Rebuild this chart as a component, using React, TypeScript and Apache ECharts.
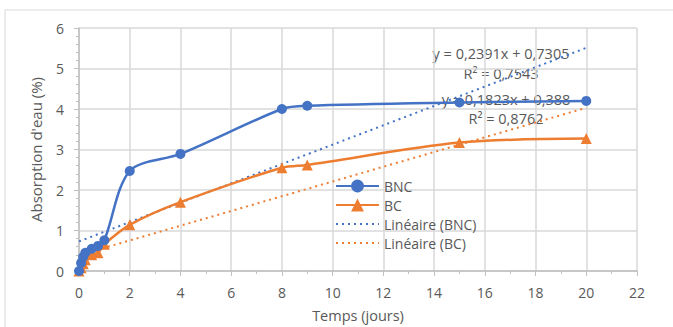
import React, { useEffect, useRef } from "react";
import * as echarts from "echarts";

const bncData: [number, number][] = [
  [0, 0], [0.083, 0.2], [0.167, 0.35], [0.25, 0.45], [0.5, 0.55], [0.75, 0.62], [1, 0.76],
  [2, 2.47], [4, 2.89], [8, 4.0], [9, 4.08], [15, 4.16], [20, 4.2],
];
const bcData: [number, number][] = [
  [0, 0], [0.083, 0.08], [0.167, 0.18], [0.25, 0.28], [0.5, 0.4], [0.75, 0.45], [1, 0.66],
  [2, 1.14], [4, 1.7], [8, 2.55], [9, 2.62], [15, 3.17], [20, 3.27],
];
const trendBNC: [number, number][] = [[0, 0.73], [20, 5.51]];
const trendBC: [number, number][] = [[0, 0.39], [20, 4.03]];
const seriesNames = ["BNC", "BC", "Linéaire (BNC)", "Linéaire (BC)"];
const eqBNC = "y = 0,2391x + 0,7305";
const r2BNC = "R² = 0,7543";
const eqBC = "y = 0,1823x + 0,388";
const r2BC = "R² = 0,8762";

const BLUE = "#4472C4";
const ORANGE = "#ED7D31";
const TXT = "#595959";
const FONT = "Open Sans";

export default function App() {
  const ref = useRef<HTMLDivElement>(null);
  useEffect(() => {
    if (!ref.current) return;
    const chart = echarts.init(ref.current, undefined, { renderer: "svg" });
    const eqStyle = (text: string) => ({ text, fill: TXT, fontSize: 14.5, fontFamily: FONT, align: "center", verticalAlign: "middle" });
    chart.setOption({
      animation: false,
      backgroundColor: "#ffffff",
      grid: { left: 79, right: 36, top: 28, bottom: 56, containLabel: false, outerBoundsMode: "none" },
      xAxis: {
        type: "value", min: 0, max: 22, interval: 2,
        name: "Temps (jours)", nameLocation: "middle", nameGap: 36,
        nameTextStyle: { color: TXT, fontSize: 14.5, lineHeight: 16, fontFamily: FONT },
        axisLine: { show: true, lineStyle: { color: "#bfbfbf", width: 1.5 } },
        axisTick: { show: true, length: 5, lineStyle: { color: "#bfbfbf" } },
        minorTick: { show: true, splitNumber: 2, length: 3, lineStyle: { color: "#bfbfbf" } },
        axisLabel: { color: TXT, fontSize: 14, fontFamily: FONT, margin: 14 },
        splitLine: { show: true, lineStyle: { color: "#d9d9d9", width: 1.5 } },
      },
      yAxis: {
        type: "value", min: 0, max: 6, interval: 1,
        name: "Absorption d'eau (%)", nameLocation: "middle", nameGap: 36,
        nameTextStyle: { color: TXT, fontSize: 15, fontFamily: FONT },
        axisLine: { show: true, lineStyle: { color: "#bfbfbf", width: 1.5 } },
        axisTick: { show: true, length: 5, lineStyle: { color: "#bfbfbf" } },
        minorTick: { show: true, splitNumber: 5, length: 3, lineStyle: { color: "#bfbfbf" } },
        axisLabel: { color: TXT, fontSize: 14, fontFamily: FONT, margin: 15 },
        splitLine: { show: true, lineStyle: { color: "#d9d9d9", width: 1.5 } },
      },
      legend: {
        orient: "vertical", left: 330, top: 174, itemGap: 5,
        itemWidth: 43, itemHeight: 16,
        textStyle: { color: TXT, fontSize: 14, fontFamily: FONT },
        data: [
          { name: seriesNames[0] },
          { name: seriesNames[1] },
          { name: seriesNames[2], itemStyle: { opacity: 0 } },
          { name: seriesNames[3], itemStyle: { opacity: 0 } },
        ],
      },
      series: [
        {
          name: seriesNames[0], type: "line", data: bncData, smooth: 0.3,
          symbol: "circle", symbolSize: 10, z: 4,
          itemStyle: { color: BLUE }, lineStyle: { color: BLUE, width: 2.5 },
        },
        {
          name: seriesNames[1], type: "line", data: bcData, smooth: 0.3,
          symbol: "triangle", symbolSize: 11, z: 3,
          itemStyle: { color: ORANGE }, lineStyle: { color: ORANGE, width: 2.5 },
        },
        {
          name: seriesNames[2], type: "line", data: trendBNC, symbol: "none", z: 2,
          itemStyle: { color: BLUE }, lineStyle: { color: BLUE, width: 2, type: [2, 4] },
        },
        {
          name: seriesNames[3], type: "line", data: trendBC, symbol: "none", z: 2,
          itemStyle: { color: ORANGE }, lineStyle: { color: ORANGE, width: 2, type: [2, 4] },
        },
      ],
      graphic: [
        { type: "rect", shape: { x: 5, y: 10, width: 700, height: 330 }, style: { fill: "none", stroke: "#d9d9d9", lineWidth: 1 }, silent: true },
        { type: "text", x: 501, y: 53, style: eqStyle(eqBNC) },
        { type: "text", x: 501, y: 73, style: eqStyle(r2BNC) },
        { type: "text", x: 506, y: 99, style: eqStyle(eqBC) },
        { type: "text", x: 506, y: 118, style: eqStyle(r2BC) },
      ],
    });
    return () => chart.dispose();
  }, []);
  return <div ref={ref} style={{ width: 673, height: 327, position: "absolute", left: 0, top: 0 }} />;
}
